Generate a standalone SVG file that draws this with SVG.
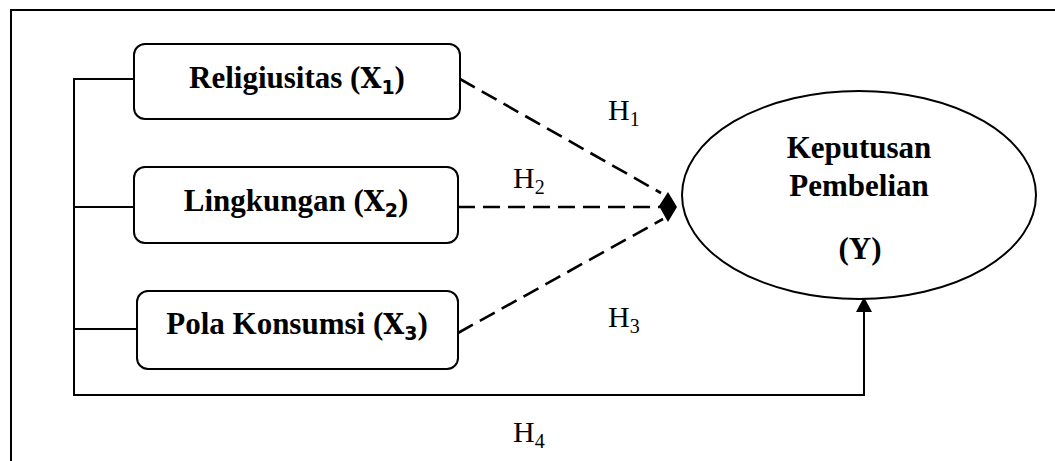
<svg xmlns="http://www.w3.org/2000/svg" width="1055" height="461" viewBox="0 0 1055 461">
<style>
.box{fill:#fff;stroke:#000;stroke-width:2}
.lbl{font-family:"Liberation Serif",serif;font-weight:bold;font-size:31px;fill:#000}
.x{font-family:"DejaVu Serif","Liberation Serif",serif;font-weight:bold;font-size:27px}
.sub{font-family:"DejaVu Sans","Liberation Sans",sans-serif;font-weight:bold;font-size:19px}
.h{font-family:"Liberation Serif",serif;font-size:30px;fill:#000}
.hs{font-size:20px}
.solid{fill:none;stroke:#000;stroke-width:2}
.dash{fill:none;stroke:#000;stroke-width:2.6;stroke-dasharray:17 8}
</style>
<rect width="1055" height="461" fill="#fff"/>
<g id="frame">
<line x1="11" y1="10" x2="1055" y2="10" stroke="#000" stroke-width="2"/>
<line x1="11" y1="9" x2="11" y2="461" stroke="#000" stroke-width="2"/>
</g>
<g id="connectors">
<polyline class="solid" points="134,79 74,79 74,395 864,395 864,310"/>
<line class="solid" x1="74" y1="207" x2="134" y2="207"/>
<line class="solid" x1="74" y1="329" x2="137" y2="329"/>
<polygon points="864,297 856,312 872,312" fill="#000"/>
<line class="dash" x1="460" y1="79" x2="661" y2="193"/>
<line class="dash" x1="458" y1="207" x2="660" y2="207"/>
<line class="dash" x1="458" y1="333" x2="663" y2="219"/>
<polygon points="659,206 668,192 677,207 668,222" fill="#000"/>
</g>
<g id="n1">
<rect class="box" x="134" y="44" width="326" height="75" rx="11"/>
<text class="lbl" x="297" y="88" text-anchor="middle">Religiusitas (<tspan class="x">X</tspan><tspan class="sub" dy="6">1</tspan><tspan dy="-6">)</tspan></text>
</g>
<g id="n2">
<rect class="box" x="134" y="167" width="324" height="76" rx="11"/>
<text class="lbl" x="296" y="211" text-anchor="middle">Lingkungan (<tspan class="x">X</tspan><tspan class="sub" dy="6">2</tspan><tspan dy="-6">)</tspan></text>
</g>
<g id="n3">
<rect class="box" x="137" y="291" width="321" height="78" rx="11"/>
<text class="lbl" x="297" y="334" text-anchor="middle">Pola Konsumsi (<tspan class="x">X</tspan><tspan class="sub" dy="6">3</tspan><tspan dy="-6">)</tspan></text>
</g>
<g id="y">
<ellipse cx="859" cy="195" rx="177" ry="104" fill="#fff" stroke="#000" stroke-width="2"/>
<text class="lbl" x="859" y="158" text-anchor="middle">Keputusan</text>
<text class="lbl" x="859" y="196" text-anchor="middle">Pembelian</text>
<text class="lbl" x="860" y="259" text-anchor="middle">(Y)</text>
</g>
<g id="labels">
<text class="h" x="608" y="120">H<tspan class="hs" dy="6">1</tspan></text>
<text class="h" x="513" y="188">H<tspan class="hs" dy="6">2</tspan></text>
<text class="h" x="608" y="327">H<tspan class="hs" dy="6">3</tspan></text>
<text class="h" x="513" y="442">H<tspan class="hs" dy="6">4</tspan></text>
</g>
</svg>
